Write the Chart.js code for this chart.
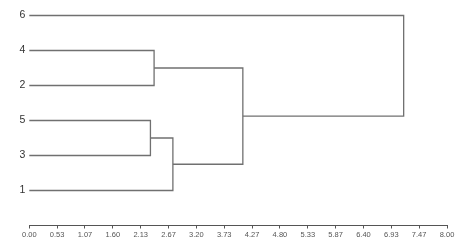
<!DOCTYPE html>
<html>
<head>
<meta charset="utf-8">
<script src="https://cdn.jsdelivr.net/npm/chart.js@4/dist/chart.umd.min.js"></script>
<style>
  html, body { margin: 0; padding: 0; background: #fff; }
  canvas { display: block; }
</style>
</head>
<body>
<canvas id="chart" width="469" height="246"></canvas>
<script>
// leaves from top to bottom
const leafOrder = ['6', '4', '2', '5', '3', '1'];

// merges: first cluster, second cluster, height
const mergeFirst = ['5', '4', '5+3', '4+2', '6'];
const mergeSecond = ['3', '2', '1', '5+3+1', '4+2+5+3+1'];
const mergeHeight = [2.32, 2.39, 2.75, 4.09, 7.17];

const xTickValues = [0, 0.5333, 1.0667, 1.6, 2.1333, 2.6667, 3.2, 3.7333,
                     4.2667, 4.8, 5.3333, 5.8667, 6.4, 6.9333, 7.4667, 8];

const lineColor = '#707070';
const fontFamily = '"Liberation Sans", Arial, sans-serif';

// node positions: y = row (6 at top ... 1 at bottom), x = merge height
const nodes = {};
leafOrder.forEach((name, i) => {
    nodes[name] = { x: 0, y: leafOrder.length - i };
});

const datasets = [];
for (let i = 0; i < mergeHeight.length; i++) {
    const a = nodes[mergeFirst[i]];
    const b = nodes[mergeSecond[i]];
    const h = mergeHeight[i];
    nodes[mergeFirst[i] + '+' + mergeSecond[i]] = { x: h, y: (a.y + b.y) / 2 };
    datasets.push({
        data: [
            { x: a.x, y: a.y },
            { x: h, y: a.y },
            { x: h, y: b.y },
            { x: b.x, y: b.y }
        ],
        showLine: true,
        borderColor: lineColor,
        borderWidth: 1.3,
        pointRadius: 0,
        tension: 0,
        clip: false
    });
}

new Chart(document.getElementById('chart'), {
    type: 'scatter',
    data: { datasets: datasets },
    options: {
        responsive: false,
        animation: false,
        devicePixelRatio: 1,
        layout: { padding: { top: 15.5, right: 22, bottom: 0, left: 0 } },
        plugins: {
            legend: { display: false },
            tooltip: { enabled: false }
        },
        scales: {
            x: {
                type: 'linear',
                min: 0,
                max: 8,
                afterBuildTicks: axis => {
                    axis.ticks = xTickValues.map(v => ({ value: v }));
                },
                afterFit: axis => { axis.height = 20.5; },
                border: { display: true, color: '#555', width: 1 },
                grid: {
                    drawOnChartArea: false,
                    drawTicks: true,
                    tickLength: 3,
                    color: '#555'
                },
                ticks: {
                    autoSkip: false,
                    maxRotation: 0,
                    padding: 2,
                    color: '#555',
                    font: { family: fontFamily, size: 7.5 },
                    callback: v => v.toFixed(2)
                }
            },
            y: {
                type: 'linear',
                min: 0,
                max: 6,
                afterBuildTicks: axis => {
                    axis.ticks = leafOrder.map((n, i) => ({ value: leafOrder.length - i }));
                },
                afterFit: axis => { axis.width = 29.3; },
                border: { display: false },
                grid: { display: false, drawTicks: false },
                ticks: {
                    padding: 4,
                    color: '#333',
                    font: { family: fontFamily, size: 10.5 },
                    callback: v => leafOrder[leafOrder.length - v]
                }
            }
        }
    }
});
</script>
</body>
</html>
